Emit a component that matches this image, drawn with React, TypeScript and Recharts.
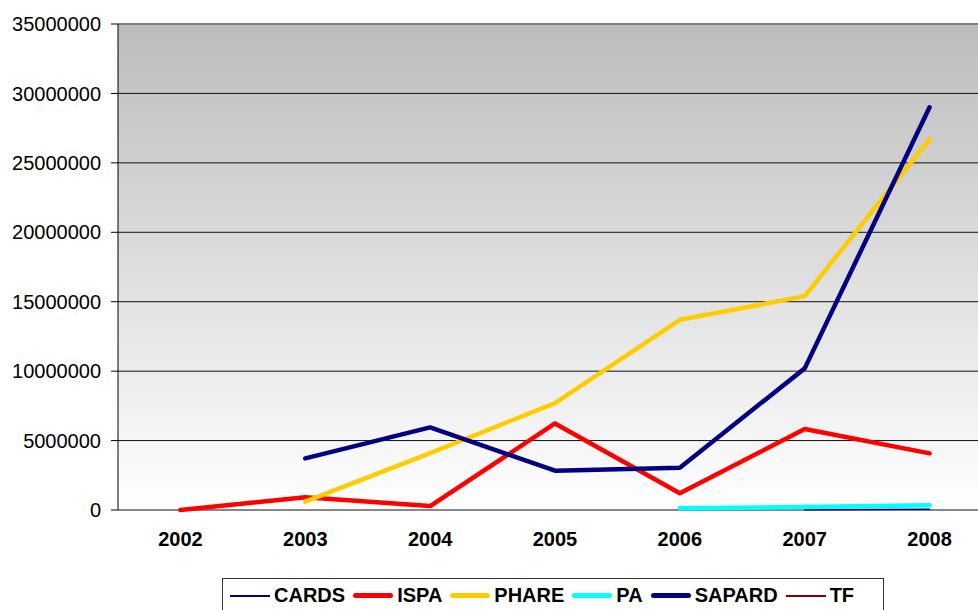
import { LineChart, Line, XAxis, YAxis, CartesianGrid, ReferenceLine } from "recharts";

const YEARS = ["2002", "2003", "2004", "2005", "2006", "2007", "2008"];
const CARDS = [null, null, null, null, null, 20000, 60000];
const ISPA = [0, 920000, 280000, 6230000, 1200000, 5830000, 4080000];
const PHARE = [null, 600000, 4100000, 7700000, 13700000, 15400000, 26700000];
const PA = [null, null, null, null, 120000, 220000, 340000];
const SAPARD = [null, 3720000, 5950000, 2830000, 3050000, 10200000, 29000000];
const TF: (number | null)[] = [null, null, null, null, null, null, null];
const Y_TICKS = [0, 5000000, 10000000, 15000000, 20000000, 25000000, 30000000, 35000000];

const SERIES = [
  { name: "CARDS", values: CARDS, color: "#000080", width: 1.5 },
  { name: "ISPA", values: ISPA, color: "#ff0000", width: 4.5 },
  { name: "PHARE", values: PHARE, color: "#ffcc00", width: 4.5 },
  { name: "PA", values: PA, color: "#00ffff", width: 4.5 },
  { name: "SAPARD", values: SAPARD, color: "#000080", width: 4.5 },
  { name: "TF", values: TF, color: "#800000", width: 1.5 },
];

const FONT = "'Liberation Sans', Arial, sans-serif";

export default function App() {
  const data = YEARS.map((year, i) => {
    const row: Record<string, number | string | null> = { x: i, year };
    for (const s of SERIES) row[s.name] = s.values[i];
    return row;
  });

  return (
    <div style={{ position: "fixed", left: 0, top: 0, width: 978, height: 610, overflow: "hidden", background: "#fff", fontFamily: FONT }}>
      <LineChart width={1000} height={610} data={data} margin={{ top: 24, right: 8, bottom: 60, left: 0 }}>
        <defs>
          <linearGradient id="plotBg" x1="0" y1="0" x2="0" y2="1">
            <stop offset="0%" stopColor="#bcbcbc" />
            <stop offset="100%" stopColor="#ffffff" />
          </linearGradient>
        </defs>
        <CartesianGrid vertical={false} stroke="#111" fill="url(#plotBg)" fillOpacity={1} />
        <ReferenceLine y={35000000} stroke="#808080" strokeWidth={2} />
        <XAxis
          xAxisId="marks"
          type="number"
          dataKey="x"
          domain={[-0.5, 6.5]}
          ticks={[0.5, 1.5, 2.5, 3.5, 4.5, 5.5, 6.5]}
          tick={false}
          tickLine={{ stroke: "#000" }}
          tickSize={6}
          axisLine={{ stroke: "#000" }}
          height={0}
          allowDataOverflow
        />
        <XAxis
          type="number"
          dataKey="x"
          domain={[-0.5, 6.5]}
          ticks={[0, 1, 2, 3, 4, 5, 6]}
          tickFormatter={(v: number) => YEARS[v]}
          tick={{ fill: "#000", fontSize: 20, fontWeight: "bold", fontFamily: FONT }}
          tickLine={false}
          axisLine={false}
          tickSize={0}
          tickMargin={22}
          height={40}
          interval={0}
        />
        <YAxis
          type="number"
          domain={[0, 35000000]}
          ticks={Y_TICKS}
          width={118}
          tick={{ fill: "#000", fontSize: 20, fontFamily: FONT }}
          tickLine={{ stroke: "#000" }}
          tickSize={7}
          tickMargin={10}
          axisLine={{ stroke: "#000" }}
          interval={0}
        />
        {SERIES.map((s) => (
          <Line
            key={s.name}
            dataKey={s.name}
            stroke={s.color}
            strokeWidth={s.width}
            strokeLinecap="round"
            strokeLinejoin="round"
            dot={false}
            activeDot={false}
            isAnimationActive={false}
          />
        ))}
      </LineChart>
      <div
        style={{
          position: "absolute",
          left: 222,
          top: 578,
          width: 662,
          height: 60,
          border: "1px solid #333",
          boxSizing: "border-box",
          display: "flex",
          alignItems: "flex-start",
          paddingLeft: 7,
          paddingTop: 5,
        }}
      >
        {SERIES.map((s) => (
          <div key={s.name} style={{ display: "flex", alignItems: "center", marginRight: 8 }}>
            <div
              style={{
                width: 40,
                height: s.width > 2 ? 5 : 2,
                background: s.color,
                borderRadius: s.width > 2 ? 2.5 : 0,
                marginRight: 4,
              }}
            />
            <span style={{ fontSize: 20, fontWeight: "bold", color: "#000", lineHeight: "23px" }}>{s.name}</span>
          </div>
        ))}
      </div>
    </div>
  );
}
